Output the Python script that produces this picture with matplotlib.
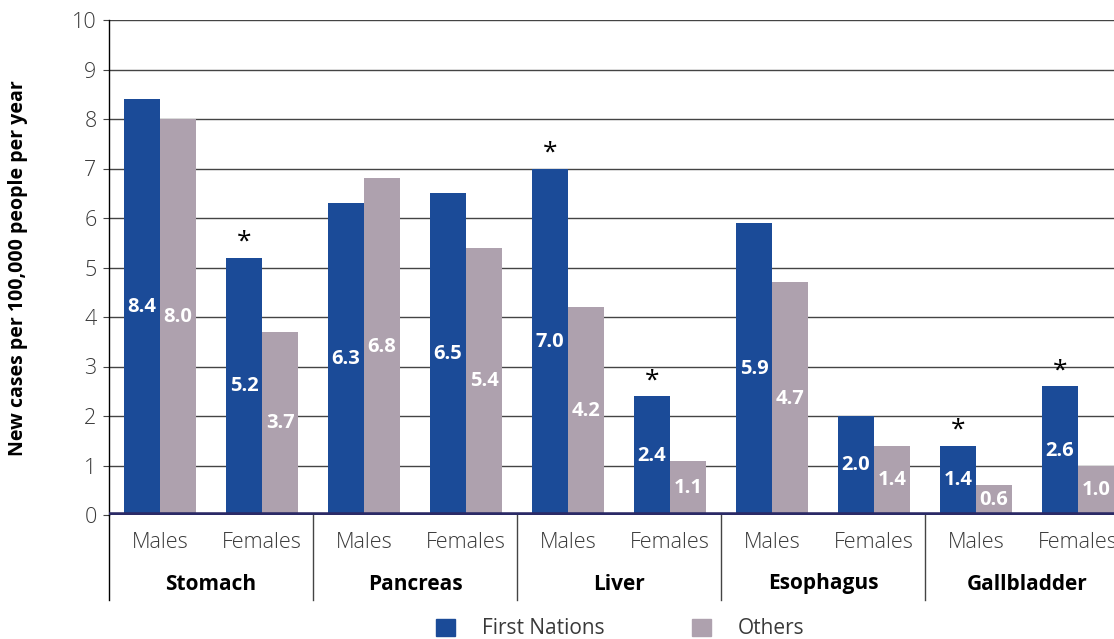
import matplotlib.pyplot as plt
import numpy as np
from matplotlib.patches import Patch

# Data
cancers = ['Stomach', 'Pancreas', 'Liver', 'Esophagus', 'Gallbladder']
sexes = ['Males', 'Females']
first_nations = [8.4, 5.2, 6.3, 6.5, 7.0, 2.4, 5.9, 2.0, 1.4, 2.6]
others = [8.0, 3.7, 6.8, 5.4, 4.2, 1.1, 4.7, 1.4, 0.6, 1.0]
significant = [False, True, False, False, True, True, False, False, True, True]

blue = '#1b4b98'
grey = '#aea1ae'
navy = '#2b2a66'
txt = '#3a3a3a'

plt.rcParams['font.family'] = ['Open Sans', 'DejaVu Sans']

fig = plt.figure(figsize=(11.14, 6.39), dpi=100)
W, H = 1114, 639
# axes spans past the right edge so the last group is cut off as in the original
ax = fig.add_axes([109 / W, (H - 515) / H, 1020 / W, 495 / H])

x = np.arange(len(first_nations))
bw = 0.353
ax.bar(x - bw / 2, first_nations, bw, color=blue, zorder=3)
ax.bar(x + bw / 2, others, bw, color=grey, zorder=3)

# value labels centred in the bars
for xi, v in zip(x, first_nations):
    ax.text(xi - bw / 2, v / 2, f'{v:.1f}', ha='center', va='center',
            color='white', fontsize=14.5, fontweight='bold', zorder=4)
for xi, v in zip(x, others):
    ax.text(xi + bw / 2, v / 2, f'{v:.1f}', ha='center', va='center',
            color='white', fontsize=14.5, fontweight='bold', zorder=4)

# asterisks for significant differences
for xi, v, s in zip(x, first_nations, significant):
    if s:
        ax.text(xi - bw / 2, v + 0.06, '*', ha='center', va='bottom',
                fontsize=19, color='black', zorder=4)

ax.set_xlim(-0.5, 9.5)
ax.set_ylim(0, 10)
ax.set_yticks(range(0, 11))
ax.yaxis.grid(True, color='#444444', linewidth=1)
ax.set_axisbelow(True)
ax.set_xticks([])
for side in ['top', 'right', 'bottom']:
    ax.spines[side].set_visible(False)
ax.spines['left'].set_color('black')
ax.spines['left'].set_linewidth(1)
ax.tick_params(axis='y', length=4, pad=5, labelsize=15.5, labelcolor=txt, color='#444444')
for lab in ax.get_yticklabels():
    lab.set_fontweight('light')

# thick baseline
ax.axhline(0, color=navy, linewidth=4, zorder=5)

# category axis drawn underneath
trans = ax.get_xaxis_transform()
bottom = -85 / 495
ax.plot([-0.5, -0.5], [0, bottom], transform=trans, color='black', lw=1, clip_on=False)
for k in range(1, len(cancers)):
    ax.plot([2 * k - 0.5] * 2, [0, bottom], transform=trans, color='#444444', lw=1, clip_on=False)
for i in x:
    ax.text(i, -27 / 495, sexes[i % 2], transform=trans, ha='center', va='center',
            fontsize=15.5, color=txt, fontweight='light', clip_on=False)
for k, name in enumerate(cancers):
    ax.text(2 * k + 0.5, -69 / 495, name, transform=trans, ha='center', va='center',
            fontsize=15, fontweight='bold', color='black', clip_on=False)

fig.text(18 / W, 1 - 268 / H, 'New cases per 100,000 people per year', rotation=90,
         ha='center', va='center', fontsize=14, fontweight='bold', color='black')

handles = [Patch(color=blue, label='First Nations'), Patch(color=grey, label='Others')]
fig.legend(handles=handles, loc='center', bbox_to_anchor=(620 / W, 1 - 629 / H), ncol=2,
           frameon=False, fontsize=15, handlelength=0.9, handleheight=0.9,
           handletextpad=1.3, columnspacing=4.2, labelcolor=txt)

fig.savefig('out.png', dpi=100)
